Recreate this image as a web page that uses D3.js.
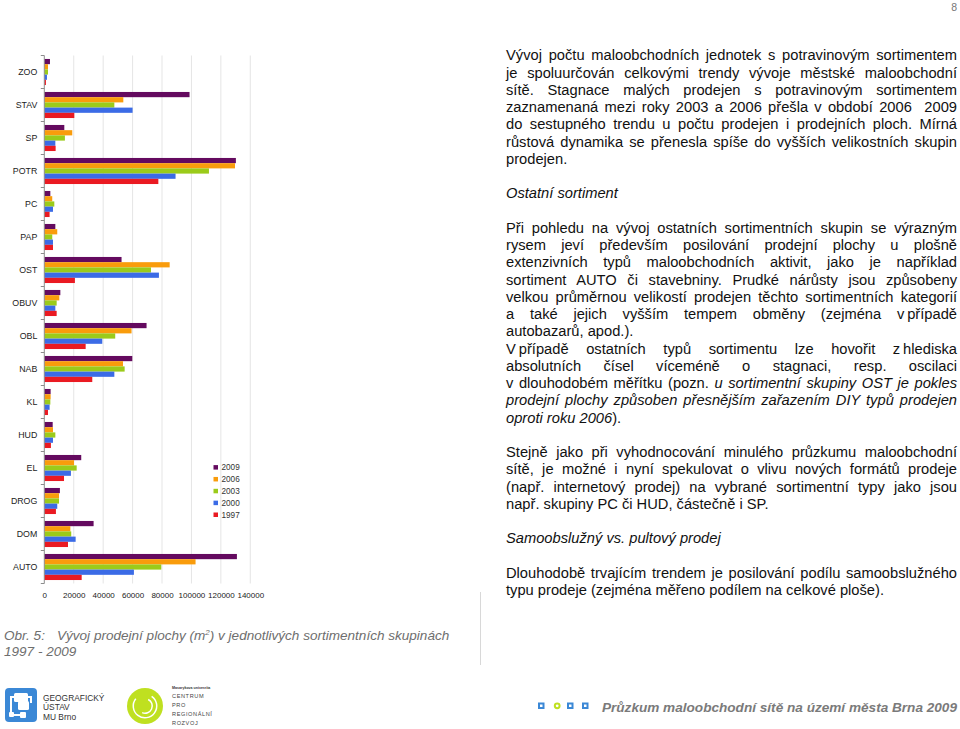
<!DOCTYPE html>
<html>
<head>
<meta charset="utf-8">
<script src="https://cdn.jsdelivr.net/npm/d3@7"></script>
<style>
  html, body { margin: 0; padding: 0; background: #fff; }
  body { width: 960px; height: 729px; position: relative; overflow: hidden; font-family: "Liberation Sans", Arial, sans-serif; }
  svg { position: absolute; left: 0; top: 0; }
  .ln { position: absolute; left: 506px; width: 451px; font-size: 14.7px; line-height: 17.25px; height: 17.25px; color: #111; white-space: nowrap; }
  .just { text-align: justify; text-align-last: justify; white-space: normal; }
  .cap { position: absolute; font-size: 13.55px; font-style: italic; color: #6e6e6e; line-height: 16px; white-space: nowrap; }
</style>
</head>
<body>
<script>
// ---------- chart data ----------
const categories = ["ZOO","STAV","SP","POTR","PC","PAP","OST","OBUV","OBL","NAB","KL","HUD","EL","DROG","DOM","AUTO"];
const years = ["2009","2006","2003","2000","1997"];
const v2009 = [3850, 98700, 13600, 130200, 4100, 7500, 52500, 10900, 69500, 59800, 4300, 5700, 25100, 10600, 33500, 130900];
const v2006 = [2500, 53700, 19000, 129600, 5400, 8800, 85200, 10200, 59300, 53500, 4300, 5900, 20200, 10000, 17700, 102800];
const v2003 = [2500, 47600, 14000, 111900, 6800, 5400, 72500, 8400, 48200, 54600, 4100, 7500, 22000, 10000, 18300, 79500];
const v2000 = [1800, 60000, 7500, 89200, 5900, 5900, 77900, 7500, 39400, 47600, 3600, 5900, 18100, 8800, 21300, 60900];
const v1997 = [1100, 20400, 7700, 77500, 3600, 5900, 20800, 8400, 28100, 32600, 2500, 4500, 13400, 7900, 16100, 25400];
const xTicks = [0, 20000, 40000, 60000, 80000, 100000, 120000, 140000];
const colors = ["#640a5f", "#f99c0c", "#9bcb1a", "#3b6be6", "#ea1a22"];

const seriesValues = [v2009, v2006, v2003, v2000, v1997];
const table = categories.map((c, i) => ({ cat: c, vals: years.map((y, k) => ({ year: y, value: seriesValues[k][i], k })) }));

// ---------- text data ----------
const textLines = [
  ["Vývoj počtu maloobchodních jednotek s potravinovým sortimentem", "j"],
  ["je spoluurčován celkovými trendy vývoje městské maloobchodní", "j"],
  ["sítě. Stagnace malých prodejen s potravinovým sortimentem", "j"],
  ["zaznamenaná mezi roky 2003 a 2006 přešla v období 2006 &nbsp;2009", "j"],
  ["do sestupného trendu u počtu prodejen i prodejních ploch. Mírná", "j"],
  ["růstová dynamika se přenesla spíše do vyšších velikostních skupin", "j"],
  ["prodejen.", "l"],
  null,
  ["<i>Ostatní sortiment</i>", "l"],
  null,
  ["Při pohledu na vývoj ostatních sortimentních skupin se výrazným", "j"],
  ["rysem jeví především posilování prodejní plochy u plošně", "j"],
  ["extenzivních typů maloobchodních aktivit, jako je například", "j"],
  ["sortiment AUTO či stavebniny. Prudké nárůsty jsou způsobeny", "j"],
  ["velkou průměrnou velikostí prodejen těchto sortimentních kategorií", "j"],
  ["a také jejich vyšším tempem obměny (zejména v&#8201;případě", "j"],
  ["autobazarů, apod.).", "l"],
  ["V&#8201;případě ostatních typů sortimentu lze hovořit z&#8201;hlediska", "j"],
  ["absolutních čísel víceméně o stagnaci, resp. oscilaci", "j"],
  ["v dlouhodobém měřítku (pozn. <i>u sortimentní skupiny OST je pokles</i>", "j"],
  ["<i>prodejní plochy způsoben přesnějším zařazením DIY typů prodejen</i>", "j"],
  ["<i>oproti roku 2006</i>).", "l"],
  null,
  ["Stejně jako při vyhodnocování minulého průzkumu maloobchodní", "j"],
  ["sítě, je možné i nyní spekulovat o vlivu nových formátů prodeje", "j"],
  ["(např. internetový prodej) na vybrané sortimentní typy jako jsou", "j"],
  ["např. skupiny PC či HUD, částečně i SP.", "l"],
  null,
  ["<i>Samoobslužný vs. pultový prodej</i>", "l"],
  null,
  ["Dlouhodobě trvajícím trendem je posilování podílu samoobslužného", "j"],
  ["typu prodeje (zejména měřeno podílem na celkové ploše).", "l"]
];

// ---------- svg ----------
const svg = d3.select("body").append("svg").attr("width", 960).attr("height", 729);

const x = d3.scaleLinear().domain([0, 140000]).range([44.3, 250.3]);
const y = d3.scaleBand().domain(categories).range([55.5, 583.5]).paddingInner(0.21).paddingOuter(0.105);
const yIn = d3.scaleBand().domain(years).range([0, y.bandwidth()]);

const chart = svg.append("g").attr("font-family", "Liberation Sans, Arial, sans-serif");

// gridlines
chart.append("g").selectAll("line").data(xTicks.slice(1)).join("line")
  .attr("x1", d => x(d)).attr("x2", d => x(d))
  .attr("y1", 55.5).attr("y2", 583.5)
  .attr("stroke", "#dedede").attr("stroke-width", 0.8);

// bars
const groups = chart.append("g").selectAll("g").data(table).join("g")
  .attr("transform", d => `translate(0,${y(d.cat)})`);
groups.selectAll("rect").data(d => d.vals).join("rect")
  .attr("x", x(0))
  .attr("y", d => yIn(d.year))
  .attr("width", d => x(d.value) - x(0))
  .attr("height", yIn.bandwidth())
  .attr("fill", d => colors[d.k]);

// y axis line and boundary ticks
const step = y.step();
const bounds = d3.range(categories.length + 1).map(i => 55.5 + i * step);
chart.append("line").attr("x1", 44.3).attr("x2", 44.3).attr("y1", 55.5).attr("y2", 583.5)
  .attr("stroke", "#8c8c8c").attr("stroke-width", 1);
chart.append("g").selectAll("line").data(bounds).join("line")
  .attr("x1", 40.8).attr("x2", 44.3).attr("y1", d => d).attr("y2", d => d)
  .attr("stroke", "#8c8c8c").attr("stroke-width", 1);

// y labels via axis
const yAxis = chart.append("g").attr("transform", "translate(44.3,0)")
  .call(d3.axisLeft(y).tickSize(0).tickPadding(7));
yAxis.select(".domain").remove();
yAxis.selectAll("text").attr("font-size", 8.8).attr("fill", "#222").attr("font-family", "Liberation Sans, Arial, sans-serif");

// x labels via axis
const xAxis = chart.append("g").attr("transform", "translate(0,592.5)")
  .call(d3.axisBottom(x).tickValues(xTicks).tickSize(0).tickPadding(0).tickFormat(d3.format("d")));
xAxis.select(".domain").remove();
xAxis.selectAll("text").attr("font-size", 8).attr("fill", "#222").attr("dy", "0.71em").attr("font-family", "Liberation Sans, Arial, sans-serif");

// legend
const leg = chart.append("g");
years.forEach((yr, k) => {
  const cy = 467.3 + k * 11.85;
  leg.append("rect").attr("x", 213.5).attr("y", cy - 2.2).attr("width", 4.5).attr("height", 4.5).attr("fill", colors[k]);
  leg.append("text").attr("x", 221.5).attr("y", cy).attr("dy", "0.35em").attr("font-size", 8.2).attr("fill", "#333").text(yr);
});

// separator line
svg.append("line").attr("x1", 480.5).attr("x2", 480.5).attr("y1", 592).attr("y2", 665)
  .attr("stroke", "#d8d8d8").attr("stroke-width", 1);

// page number
svg.append("text").attr("x", 957).attr("y", 10.5).attr("text-anchor", "end")
  .attr("font-family", "Liberation Sans, Arial, sans-serif").attr("font-size", 10.5).attr("fill", "#777").text("8");

// ---------- footer left logos ----------
const f = svg.append("g").attr("font-family", "Liberation Sans, Arial, sans-serif");
f.append("rect").attr("x", 5).attr("y", 688).attr("width", 32).attr("height", 34).attr("rx", 4).attr("fill", "#3b88d6");
const ic = f.append("g").attr("stroke", "#fff").attr("fill", "none").attr("stroke-width", 2);
ic.append("path").attr("d", "M15 697 H11 V715 H21 M27 697 H31 V703");
f.append("rect").attr("x", 14).attr("y", 693).attr("width", 14).attr("height", 9).attr("rx", 1.5).attr("fill", "#fff");
f.append("rect").attr("x", 18).attr("y", 701).attr("width", 11).attr("height", 9).attr("rx", 1.5).attr("fill", "#fff");
f.append("rect").attr("x", 20).attr("y", 712).attr("width", 6).attr("height", 6).attr("rx", 1).attr("fill", "#fff");
f.append("rect").attr("x", 9).attr("y", 712).attr("width", 5).attr("height", 5).attr("rx", 1).attr("fill", "#fff");
f.append("text").attr("x", 43).attr("y", 700.5).attr("font-size", 8.4).attr("fill", "#333").text("GEOGRAFICKÝ");
f.append("text").attr("x", 43).attr("y", 710).attr("font-size", 8.4).attr("fill", "#333").text("ÚSTAV");
f.append("text").attr("x", 43).attr("y", 719.5).attr("font-size", 8.4).attr("fill", "#333").text("MU Brno");

f.append("circle").attr("cx", 145).attr("cy", 706).attr("r", 18).attr("fill", "#bfe020");
f.append("path").attr("d", d3.arc()({ innerRadius: 11, outerRadius: 12.5, startAngle: 0.6, endAngle: 2 * Math.PI - 0.9 }))
  .attr("transform", "translate(145,706)").attr("fill", "#fff");
f.append("path").attr("d", d3.arc()({ innerRadius: 6.5, outerRadius: 8, startAngle: 3.6, endAngle: 2 * Math.PI + 0.4 }))
  .attr("transform", "translate(145,706) rotate(180)").attr("fill", "#fff");
f.append("text").attr("x", 172).attr("y", 688.5).attr("font-size", 3.6).attr("font-weight", "bold").attr("fill", "#333").text("Masarykova univerzita");
["CENTRUM", "PRO", "REGIONÁLNÍ", "ROZVOJ"].forEach((t, i) => {
  f.append("text").attr("x", 172).attr("y", 697.5 + i * 9).attr("font-size", 5.6).attr("letter-spacing", 0.6).attr("fill", "#444").text(t);
});

// footer right
const fr = svg.append("g");
[[538, "sq"], [554, "c"], [567, "sq"], [582, "sq"]].forEach(([px, t]) => {
  if (t === "sq") fr.append("rect").attr("x", px + 1).attr("y", 703.5).attr("width", 4.5).attr("height", 4.5)
    .attr("fill", "none").attr("stroke", "#3b88d6").attr("stroke-width", 2);
  else fr.append("circle").attr("cx", px + 3.2).attr("cy", 705.8).attr("r", 2.4)
    .attr("fill", "none").attr("stroke", "#bfe020").attr("stroke-width", 2);
});
fr.append("text").attr("x", 957).attr("y", 711.5).attr("text-anchor", "end")
  .attr("font-family", "Liberation Sans, Arial, sans-serif").attr("font-size", 13.6)
  .attr("font-weight", "bold").attr("font-style", "italic").attr("fill", "#7a7a7a")
  .text("Průzkum maloobchodní sítě na území města Brna 2009");

// ---------- right column text ----------
const body = d3.select("body");
textLines.forEach((ln, i) => {
  if (!ln) return;
  const cy = 56 + i * 17.25;
  body.append("div").attr("class", "ln" + (ln[1] === "j" ? " just" : ""))
    .style("top", (cy - 8.6) + "px").html(ln[0]);
});

// caption
body.append("div").attr("class", "cap").style("left", "4px").style("top", "628px").text("Obr. 5:");
body.append("div").attr("class", "cap").style("left", "57px").style("top", "628px")
  .html("Vývoj prodejní plochy (m<sup style=\"font-size:8px;vertical-align:5px;line-height:0\">2</sup>) v jednotlivých sortimentních skupinách");
body.append("div").attr("class", "cap").style("left", "4px").style("top", "644px").text("1997 - 2009");
</script>
</body>
</html>
